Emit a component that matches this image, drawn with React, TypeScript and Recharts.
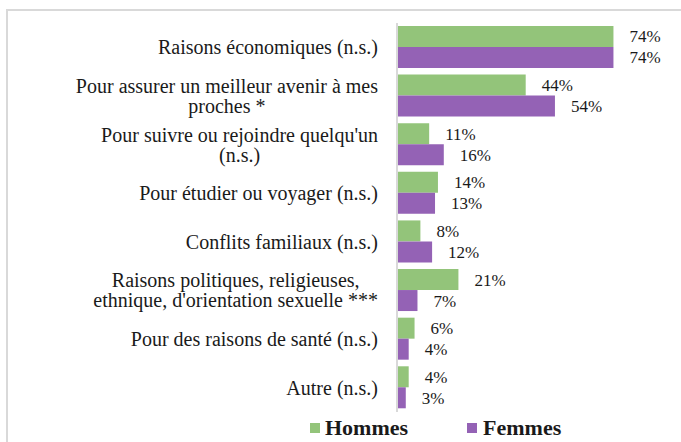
import React from 'react';
import { BarChart, Bar, XAxis, YAxis, LabelList } from 'recharts';

const categories = [
  'Raisons économiques (n.s.)',
  'Pour assurer un meilleur avenir à mes\nproches *',
  "Pour suivre ou rejoindre quelqu'un\n(n.s.)",
  'Pour étudier ou voyager (n.s.)',
  'Conflits familiaux (n.s.)',
  "Raisons politiques, religieuses,\nethnique, d'orientation sexuelle ***",
  'Pour des raisons de santé (n.s.)',
  'Autre (n.s.)',
];
const hommes = [74, 44, 11, 14, 8, 21, 6, 4];
const femmes = [74, 54, 16, 13, 12, 7, 4, 3];

const data = categories.map((name, i) => ({ name, hommes: hommes[i], femmes: femmes[i] }));

const FONT = 'Liberation Serif, Tinos, DejaVu Serif, serif';
const LABEL_SIZE = 20;
const GREEN = '#93C47A';
const PURPLE = '#9462B5';

let ctx: CanvasRenderingContext2D | null = null;
const measure = (s: string) => {
  if (!ctx) ctx = document.createElement('canvas').getContext('2d');
  if (!ctx) return s.length * 8;
  ctx.font = `${LABEL_SIZE}px ${FONT}`;
  return ctx.measureText(s).width;
};

// wrapped lines are centered on each other, block right-aligned to the axis
const CategoryTick = (props: any) => {
  const { x, y, payload } = props;
  const lines: string[] = String(payload.value).split('\n');
  const maxW = Math.max(...lines.map(measure));
  const cx = x - maxW / 2;
  const lh = 20;
  return (
    <g>
      {lines.map((l, i) => (
        <text
          key={i}
          x={lines.length > 1 ? cx : x}
          y={y + (i - (lines.length - 1) / 2) * lh}
          dy="0.35em"
          textAnchor={lines.length > 1 ? 'middle' : 'end'}
          style={{ fontFamily: FONT, fontSize: LABEL_SIZE }}
          fill="#1a1a1a"
        >
          {l}
        </text>
      ))}
    </g>
  );
};

const fmt = (v: any) => `${v}%`;

export default function App() {
  return (
    <div style={{ position: 'absolute', left: 0, top: 0, width: 681, height: 442, background: '#fff', overflow: 'hidden' }}>
      <div
        style={{
          position: 'absolute',
          left: 6,
          top: 9,
          width: 700,
          height: 460,
          borderTop: '2px solid #d9d9d9',
          borderLeft: '2px solid #d9d9d9',
        }}
      />
      <div style={{ position: 'absolute', left: 0, top: 0 }}>
        <BarChart
          width={681}
          height={442}
          data={data}
          layout="vertical"
          margin={{ top: 23, right: 50, bottom: 30, left: 0 }}
          barCategoryGap="6%"
          barGap={0}
        >
          <XAxis type="number" domain={[0, 80]} hide />
          <YAxis
            type="category"
            dataKey="name"
            width={397}
            tickLine={false}
            tickSize={0}
            tickMargin={19}
            axisLine={{ stroke: '#d9d9d9', strokeWidth: 2 }}
            tick={<CategoryTick />}
            interval={0}
          />
          <Bar dataKey="hommes" fill={GREEN} isAnimationActive={false}>
            <LabelList dataKey="hommes" position="right" offset={16} formatter={fmt}
              style={{ fontFamily: FONT, fontSize: 17, fill: '#1a1a1a' }} />
          </Bar>
          <Bar dataKey="femmes" fill={PURPLE} isAnimationActive={false}>
            <LabelList dataKey="femmes" position="right" offset={16} formatter={fmt}
              style={{ fontFamily: FONT, fontSize: 17, fill: '#1a1a1a' }} />
          </Bar>
        </BarChart>
      </div>
      <div style={{ position: 'absolute', left: 310, top: 415, display: 'flex', alignItems: 'center', fontFamily: FONT, fontWeight: 'bold', fontSize: 22, color: '#1a1a1a' }}>
        <span style={{ display: 'inline-block', width: 10, height: 10, background: GREEN, marginRight: 5 }} />
        <span>Hommes</span>
        <span style={{ display: 'inline-block', width: 10, height: 10, background: PURPLE, marginLeft: 59, marginRight: 6 }} />
        <span>Femmes</span>
      </div>
    </div>
  );
}
